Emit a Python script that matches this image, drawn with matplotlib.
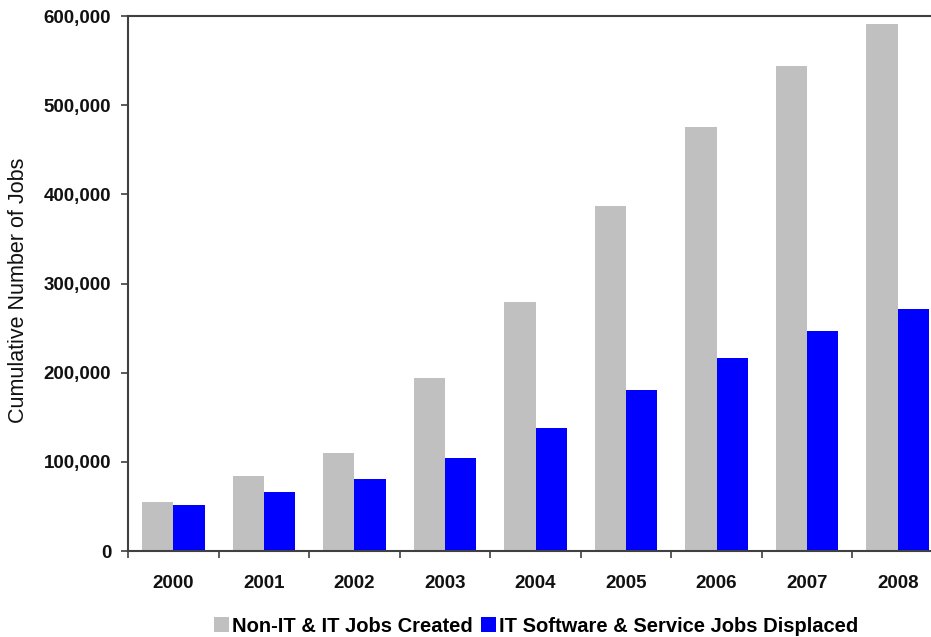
import matplotlib
matplotlib.use("Agg")
import matplotlib.pyplot as plt
from matplotlib.ticker import FuncFormatter, FixedLocator
import numpy as np

YEARS = ["2000", "2001", "2002", "2003", "2004", "2005", "2006", "2007", "2008"]
JOBS_CREATED = [55000, 84000, 110000, 194000, 279000, 387000, 475000, 544000, 591000]
JOBS_DISPLACED = [52000, 66000, 81000, 104000, 138000, 181000, 216000, 247000, 271000]

COLOR_CREATED = "#c0c0c0"
COLOR_DISPLACED = "#0000ff"
COLOR_AXIS = "#404040"

plt.rcParams["font.family"] = ["Liberation Sans", "DejaVu Sans"]

fig = plt.figure(figsize=(9.31, 6.37), dpi=100)
W, H = 931, 637
ax = fig.add_axes([128 / W, (H - 551) / H, (943 - 128) / W, (551 - 16) / H])

x = np.arange(len(YEARS))
bw = 0.345
ax.bar(x - bw / 2, JOBS_CREATED, width=bw, color=COLOR_CREATED, label="Non-IT & IT Jobs Created")
ax.bar(x + bw / 2, JOBS_DISPLACED, width=bw, color=COLOR_DISPLACED, label="IT Software & Service Jobs Displaced")

ax.set_xlim(-0.5, len(YEARS) - 0.5)
ax.set_ylim(0, 600000)
ax.set_yticks(np.arange(0, 600001, 100000))
ax.yaxis.set_major_formatter(FuncFormatter(lambda v, p: f"{int(v):,}"))

# year labels at centers, tick marks at category edges
ax.set_xticks(x)
ax.set_xticklabels(YEARS)
ax.tick_params(axis="x", which="major", length=0, pad=17)
ax.xaxis.set_minor_locator(FixedLocator(np.arange(-0.5, len(YEARS), 1.0)))
ax.tick_params(axis="x", which="minor", length=5, width=1.2, color=COLOR_AXIS, direction="out")
ax.tick_params(axis="y", length=5, width=1.2, color=COLOR_AXIS, pad=7)

for lab in ax.get_xticklabels() + ax.get_yticklabels():
    lab.set_fontsize(13.5)
    lab.set_fontweight("bold")
    lab.set_color("#111111")

for side in ["left", "bottom", "top"]:
    ax.spines[side].set_color(COLOR_AXIS)
    ax.spines[side].set_linewidth(1.5)
ax.spines["right"].set_visible(False)

fig.text(19 / W, 1 - 290 / H, "Cumulative Number of Jobs", rotation=90,
         ha="center", va="center", fontsize=15.5, color="#111111")

fig.legend(loc="center", bbox_to_anchor=(536 / W, 1 - 626 / H), ncol=2, frameon=False,
           handlelength=0.75, handleheight=0.75, handletextpad=0.15, columnspacing=0.4,
           prop={"size": 14.5, "weight": "bold"})

fig.savefig("out.png", dpi=100)
